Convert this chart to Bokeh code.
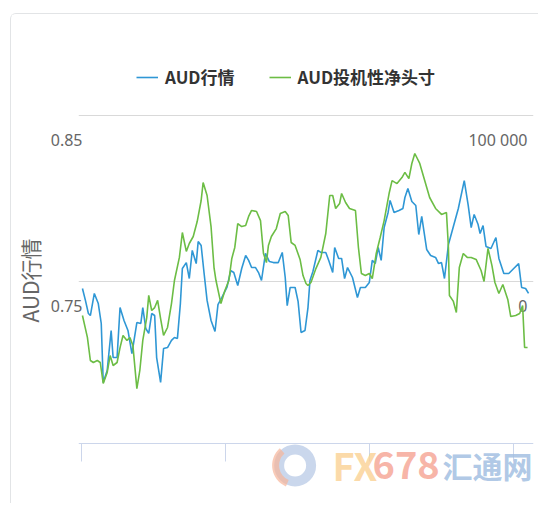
from bokeh.plotting import figure
from bokeh.models import Range1d, LinearAxis, FixedTicker, Legend, LegendItem, Label, Grid
from bokeh.core.properties import value
from bokeh.embed import file_html
from bokeh.resources import INLINE

# ---------------- data ----------------
series_names = ["AUD行情", "AUD投机性净头寸"]
y_title = "AUD行情"

blue_t = [4, 7, 10, 12, 16, 20, 23, 25, 29, 33,
          35, 39, 42, 46, 50, 54, 59, 63, 65, 68,
          71, 74, 77, 79, 83, 86, 90, 94, 97, 100,
          103, 105, 109, 112, 115, 119, 121, 124, 127, 130,
          134, 138, 141, 145, 150, 154, 157, 161, 165, 169,
          172, 175, 179, 182, 185, 189, 193, 197, 202, 206,
          209, 211, 214, 219, 222, 225, 229, 232, 234, 237,
          242, 245, 250, 253, 257, 259, 263, 266, 269, 272,
          277, 282, 285, 290, 294, 297, 300, 303, 306, 309,
          313, 315, 319, 324, 328, 330, 333, 337, 341, 344,
          347, 352, 356, 361, 364, 367, 370, 374, 379, 384,
          390, 394, 397, 400, 404, 406, 409, 412, 417, 422,
          425, 430, 435, 440, 445, 448, 452, 455]
blue_v = [0.7458, 0.7386, 0.7307, 0.7295, 0.7428, 0.7367, 0.7247, 0.6892, 0.6964, 0.7205,
          0.7042, 0.7042, 0.7343, 0.7265, 0.7205, 0.7066, 0.7253, 0.7247, 0.7343, 0.7217,
          0.7187, 0.7307, 0.7295, 0.7042, 0.6892, 0.7096, 0.7102, 0.7145, 0.7163, 0.7157,
          0.7367, 0.7578, 0.7614, 0.7518, 0.7687, 0.7608, 0.7741, 0.7717, 0.7548, 0.7386,
          0.7265, 0.7199, 0.7361, 0.7404, 0.7464, 0.7566, 0.7554, 0.7476, 0.7578, 0.7657,
          0.7627, 0.7584, 0.7584, 0.7554, 0.7506, 0.7669, 0.7620, 0.7614, 0.7614, 0.7675,
          0.7524, 0.7355, 0.7464, 0.7464, 0.7380, 0.7193, 0.7205, 0.7343, 0.7506, 0.7560,
          0.7687, 0.7675, 0.7675, 0.7627, 0.7554, 0.7705, 0.7639, 0.7639, 0.7518, 0.7584,
          0.7524, 0.7404, 0.7464, 0.7464, 0.7494, 0.7627, 0.7608, 0.7705, 0.7627, 0.7825,
          0.7916, 0.7988, 0.7916, 0.7928, 0.7940, 0.8006, 0.8060, 0.7982, 0.7958, 0.7783,
          0.7892, 0.7693, 0.7657, 0.7645, 0.7608, 0.7614, 0.7518, 0.7723, 0.7831, 0.7940,
          0.8108, 0.7958, 0.7825, 0.7904, 0.7843, 0.7789, 0.7837, 0.7711, 0.7699, 0.7765,
          0.7639, 0.7548, 0.7548, 0.7578, 0.7608, 0.7464, 0.7458, 0.7428]

green_t = [4, 9, 12, 15, 19, 22, 25, 29, 32, 35,
           39, 42, 45, 49, 52, 55, 59, 62, 65, 69,
           71, 74, 77, 80, 83, 86, 90, 94, 97, 102,
           105, 109, 112, 116, 120, 124, 126, 130, 134, 137,
           139, 144, 148, 152, 155, 158, 161, 165, 169, 172,
           175, 180, 184, 187, 190, 192, 195, 200, 204, 209,
           212, 215, 219, 224, 227, 230, 232, 235, 240, 245,
           250, 254, 257, 260, 264, 266, 270, 274, 280, 283,
           286, 290, 294, 297, 301, 305, 309, 314, 317, 322,
           327, 330, 334, 337, 340, 345, 350, 355, 361, 367,
           372, 374, 375, 379, 382, 385, 389, 393, 397, 402,
           407, 410, 414, 418, 421, 425, 429, 434, 437, 442,
           446, 449, 451, 454]
green_v = [-20500, -33700, -47600, -48800, -47600, -48800, -61400, -54800, -44600, -50600,
           -48800, -39800, -32500, -35500, -33700, -38600, -64500, -53600, -35500, -21700,
           -8400, -17500, -15700, -11400, -22300, -32500, -27700, -13300, 600, 14500,
           29500, 18100, 22900, 27100, 36100, 48800, 59600, 51800, 33100, 8400,
           600, -13300, -5400, 600, 13900, 20500, 34900, 33100, 33700, 39200,
           42800, 42200, 36700, 16900, 11400, 21700, 27100, 31900, 41000, 42200,
           39800, 23500, 21700, 13300, 3600, -1200, -2400, -600, 7800, 14500,
           28900, 51800, 51800, 44000, 47000, 53000, 47600, 44000, 42800, 20500,
           4800, 3600, 4800, 1800, 16900, 26500, 36700, 53000, 60800, 59000,
           62600, 65700, 62000, 71100, 77100, 71100, 60800, 50600, 44000, 40400,
           41600, 20500, -8400, -12000, -18700, 8400, 16900, 14500, 14500, 13300,
           6600, 0, 19900, 9600, -600, -7200, -1800, -10800, -21100, -20500,
           -19300, -14500, -39800, -39800]

left_ticks = [0.75, 0.85]
left_labels = ["0.75", "0.85"]
right_ticks = [0, 100000]
right_labels = ["0", "100 000"]
x_ticks = [3, 148.5, 294, 439.5]
watermark = [("FX", "#fbd49a", "38px"), ("678", "#f6a898", "38px"), ("汇通网", "#a3bfe2", "30px")]

# ---------------- layout constants ----------------
BLUE = "#2f97d5"
GREEN = "#6cbd45"
X_START, X_END = 0, 460
L_START, L_END = 0.618072, 0.883133
R_START, R_END = -131927, 133133
X_AXIS_AT = 0.652410          # left-axis value where the x axis line sits
SHIFT_L = 0.014458            # tick labels sit ~24 px below their grid line
SHIFT_R = 14458
LOGO_T, LOGO_V = 219, 0.6392  # watermark logo centre

p = figure(width=528, height=490, output_backend="svg", toolbar_location=None,
           x_range=Range1d(X_START, X_END), y_range=Range1d(L_START, L_END),
           x_axis_location=None, y_axis_location=None,
           min_border_left=62, min_border_right=6, min_border_top=46, min_border_bottom=4,
           background_fill_color="white", border_fill_color="white",
           outline_line_color=None,
           styles={"margin-left": "10px", "margin-top": "13px",
                   "border-left": "1px solid #e2e4e6", "border-top": "1px solid #e2e4e6",
                   "border-top-left-radius": "6px"})
p.extra_y_ranges = {"right": Range1d(R_START, R_END),
                    "llbl": Range1d(L_START + SHIFT_L, L_END + SHIFT_L)}
for g in p.grid:
    g.visible = False

p.add_layout(Grid(dimension=1, ticker=FixedTicker(ticks=left_ticks),
                  grid_line_color="#d9d9d9", grid_line_width=1))

# watermark logo (behind everything)
p.annulus(x=[LOGO_T], y=[LOGO_V], inner_radius=11, outer_radius=21,
          inner_radius_units="screen", outer_radius_units="screen",
          fill_color="#9fb6dd", fill_alpha=0.55, line_color=None)
p.annular_wedge(x=[LOGO_T], y=[LOGO_V], inner_radius=16, outer_radius=23,
                inner_radius_units="screen", outer_radius_units="screen",
                start_angle=2.3, end_angle=4.3, fill_color="#f7b59a", fill_alpha=0.7,
                line_color=None)

# x axis (line + ticks only), fixed inside the frame
xaxis = LinearAxis(ticker=FixedTicker(ticks=x_ticks), fixed_location=X_AXIS_AT,
                   major_tick_out=18, major_tick_in=0,
                   minor_tick_line_color=None, axis_line_color="#ccd6eb",
                   major_tick_line_color="#ccd6eb", major_label_text_color=None)
p.add_layout(xaxis, "below")

# left axis: labels sit below their grid lines
yaxis = LinearAxis(y_range_name="llbl", ticker=FixedTicker(ticks=left_ticks),
                   major_label_overrides=dict(zip(left_ticks, left_labels)),
                   major_tick_line_color=None, minor_tick_line_color=None, axis_line_color=None,
                   major_tick_out=0, major_tick_in=0, major_label_standoff=-4,
                   major_label_text_font="Noto Sans", major_label_text_font_size="16px",
                   major_label_text_color="#666666",
                   axis_label=y_title, axis_label_standoff=3,
                   axis_label_text_font="Noto Sans CJK SC", axis_label_text_font_size="21px",
                   axis_label_text_font_style="normal", axis_label_text_color="#666666")
p.add_layout(yaxis, "left")

# right-axis labels (right aligned inside the plot)
p.text(x=[X_END] * len(right_ticks), y=right_ticks, text=right_labels, y_range_name="right",
       x_offset=-6, y_offset=24, text_align="right", text_baseline="middle",
       text_font=value("Noto Sans"), text_font_size="16px", text_color="#666666")

rb = p.line(blue_t, blue_v, line_color=BLUE, line_width=1.6)
rg = p.line(green_t, green_v, line_color=GREEN, line_width=1.6, y_range_name="right")

legend = Legend(items=[LegendItem(label=series_names[0], renderers=[rb]),
                       LegendItem(label=series_names[1], renderers=[rg])],
                location=(58, 411), orientation="horizontal",
                background_fill_alpha=0, border_line_color=None,
                padding=0, margin=0, spacing=34, glyph_width=22, glyph_height=20,
                label_height=20, label_standoff=7,
                label_text_font="Noto Sans CJK SC", label_text_font_style="bold",
                label_text_font_size="17px", label_text_color="#333333")
p.add_layout(legend)

# watermark text
wx = [254, 294, 364]
for (txt, col, fs), xs in zip(watermark, wx):
    p.add_layout(Label(x=xs, y=36, x_units="screen", y_units="screen", text=txt,
                       text_font="Noto Sans CJK SC", text_font_style="bold",
                       text_font_size=fs, text_color=col, text_alpha=0.85,
                       text_baseline="middle"))

open("out.html", "w").write(file_html(p, INLINE))
